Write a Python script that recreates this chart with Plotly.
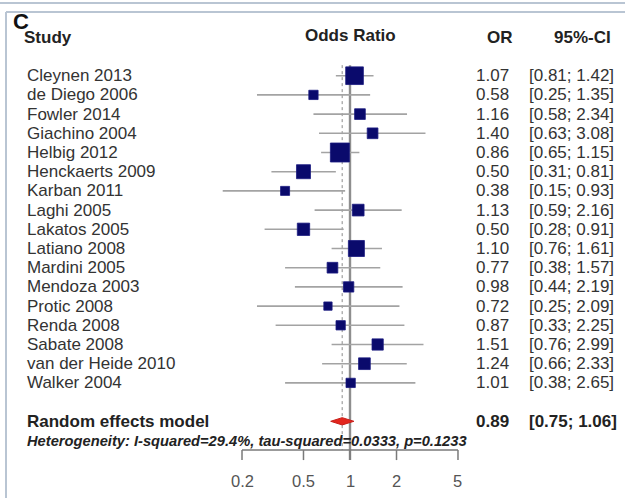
import math
import plotly.graph_objects as go

# Study-level odds ratios with 95% confidence intervals
studies = ["Cleynen 2013", "de Diego 2006", "Fowler 2014", "Giachino 2004",
           "Helbig 2012", "Henckaerts 2009", "Karban 2011", "Laghi 2005",
           "Lakatos 2005", "Latiano 2008", "Mardini 2005", "Mendoza 2003",
           "Protic 2008", "Renda 2008", "Sabate 2008", "van der Heide 2010",
           "Walker 2004"]
odds_ratio = [1.07, 0.58, 1.16, 1.40, 0.86, 0.50, 0.38, 1.13, 0.50, 1.10,
              0.77, 0.98, 0.72, 0.87, 1.51, 1.24, 1.01]
ci_lower = [0.81, 0.25, 0.58, 0.63, 0.65, 0.31, 0.15, 0.59, 0.28, 0.76,
            0.38, 0.44, 0.25, 0.33, 0.76, 0.66, 0.38]
ci_upper = [1.42, 1.35, 2.34, 3.08, 1.15, 0.81, 0.93, 2.16, 0.91, 1.61,
            1.57, 2.19, 2.09, 2.25, 2.99, 2.33, 2.65]
# approximate study weights (%) in the random effects model
weights = [12.3, 3.4, 4.5, 4.5, 14.2, 7.7, 3.2, 5.4, 6.0, 10.1,
           4.5, 4.2, 2.7, 3.4, 5.0, 5.4, 3.4]

# Pooled random effects estimate
pooled_or = 0.89
pooled_lower = 0.75
pooled_upper = 1.06
heterogeneity = "Heterogeneity: I-squared=29.4%, tau-squared=0.0333, p=0.1233"

tick_values = [0.2, 0.5, 1, 2, 5]

W, H = 625, 498
FONT = "Liberation Sans, Arial, sans-serif"
TEXT = "#333333"
NAVY = "#0a0a6c"
GREY = "#a3a3a3"
FS = 17

n = len(studies)
rows = list(range(n))
pooled_row = n + 1
het_row = n + 2
axis_row = n + 2.5
tick_len = 0.52
label_row = n + 4.1
header_row = -2

# pixel layout: OR=1 sits at x=350, 154.5 px per decade; row 0 at y=75.7, 19.2 px per row
px_per_dec = 154.5
x0_pix = 350
x_range = [(0 - x0_pix) / px_per_dec, (W - x0_pix) / px_per_dec]
row0_pix, row_pix = 75.7, 19.2
y_range = [(H - row0_pix) / row_pix, (0 - row0_pix) / row_pix]

def px(xp):
    return xp / W

fig = go.Figure()

# confidence interval whiskers
cx, cy = [], []
for r, lo, hi in zip(rows, ci_lower, ci_upper):
    cx += [lo, hi, None]
    cy += [r, r, None]
fig.add_trace(go.Scatter(x=cx, y=cy, mode="lines",
                         line=dict(color=GREY, width=1.6),
                         hoverinfo="skip", showlegend=False))

# weighted square markers
sizes = [5.04 * math.sqrt(w) for w in weights]
fig.add_trace(go.Scatter(x=odds_ratio, y=rows, mode="markers",
                         marker=dict(symbol="square", size=sizes, color=NAVY, opacity=1,
                                     line=dict(color="#1a1a80", width=0.8)),
                         hoverinfo="skip", showlegend=False))

# reference line at OR = 1 and dotted line at the pooled estimate
fig.add_shape(type="line", xref="x", yref="y", x0=1, x1=1, y0=-0.55, y1=axis_row + tick_len,
              line=dict(color="#8e8e8e", width=2.4), layer="below")
fig.add_shape(type="line", xref="x", yref="y", x0=pooled_or, x1=pooled_or, y0=-0.55, y1=axis_row,
              line=dict(color="#8a8a8a", width=1, dash="dot"), layer="below")

# pooled diamond
dh = 0.19
fig.add_trace(go.Scatter(x=[pooled_lower, pooled_or, pooled_upper, pooled_or, pooled_lower],
                         y=[pooled_row, pooled_row - dh, pooled_row, pooled_row + dh, pooled_row],
                         mode="lines", fill="toself", fillcolor="#e3261e",
                         line=dict(color="#c81e18", width=1),
                         hoverinfo="skip", showlegend=False))

# bottom axis
fig.add_shape(type="line", xref="x", yref="y", x0=tick_values[0], x1=tick_values[-1],
              y0=axis_row, y1=axis_row, line=dict(color="#7a7a7a", width=1.5))
for t in tick_values:
    fig.add_shape(type="line", xref="x", yref="y", x0=t, x1=t,
                  y0=axis_row, y1=axis_row + tick_len, line=dict(color="#7a7a7a", width=1.5))
    fig.add_annotation(x=math.log10(t), y=label_row, xref="x", yref="y", text=str(t),
                       showarrow=False, xanchor="center", yanchor="middle",
                       font=dict(family=FONT, size=16.5, color="#555555"))

# study labels and numeric columns
for r, name, o, lo, hi in zip(rows, studies, odds_ratio, ci_lower, ci_upper):
    fig.add_annotation(x=px(25), y=r, xref="paper", yref="y", text=name, showarrow=False,
                       xanchor="left", yanchor="middle", font=dict(family=FONT, size=FS, color=TEXT))
    fig.add_annotation(x=px(511), y=r, xref="paper", yref="y", text=f"{o:.2f}", showarrow=False,
                       xanchor="right", yanchor="middle", font=dict(family=FONT, size=FS, color=TEXT))
    fig.add_annotation(x=px(527), y=r, xref="paper", yref="y", text=f"[{lo:.2f}; {hi:.2f}]",
                       showarrow=False, xanchor="left", yanchor="middle",
                       font=dict(family=FONT, size=FS, color=TEXT))

# pooled row text
bold = dict(family=FONT, size=FS, color="#222222")
fig.add_annotation(x=px(25), y=pooled_row, xref="paper", yref="y", text="<b>Random effects model</b>",
                   showarrow=False, xanchor="left", yanchor="middle", font=bold)
fig.add_annotation(x=px(511), y=pooled_row, xref="paper", yref="y", text=f"<b>{pooled_or:.2f}</b>",
                   showarrow=False, xanchor="right", yanchor="middle", font=bold)
fig.add_annotation(x=px(527), y=pooled_row, xref="paper", yref="y",
                   text=f"<b>[{pooled_lower:.2f}; {pooled_upper:.2f}]</b>",
                   showarrow=False, xanchor="left", yanchor="middle", font=bold)
fig.add_annotation(x=px(25), y=het_row, xref="paper", yref="y", text=f"<b><i>{heterogeneity}</i></b>",
                   showarrow=False, xanchor="left", yanchor="middle",
                   font=dict(family=FONT, size=14.7, color="#222222"))

# column headers
fig.add_annotation(x=px(22), y=header_row, xref="paper", yref="y", text="<b>Study</b>",
                   showarrow=False, xanchor="left", yanchor="middle", font=bold)
fig.add_annotation(x=0, y=header_row - 0.1, xref="x", yref="y", text="<b>Odds Ratio</b>",
                   showarrow=False, xanchor="center", yanchor="middle", font=bold)
fig.add_annotation(x=px(515), y=header_row, xref="paper", yref="y", text="<b>OR</b>",
                   showarrow=False, xanchor="right", yanchor="middle", font=bold)
fig.add_annotation(x=px(613), y=header_row, xref="paper", yref="y", text="<b>95%-CI</b>",
                   showarrow=False, xanchor="right", yanchor="middle", font=bold)

# panel letter
fig.add_annotation(x=px(11), y=1 - 22 / H, xref="paper", yref="paper", text="<b>C</b>",
                   showarrow=False, xanchor="left", yanchor="middle",
                   font=dict(family=FONT, size=22, color="#111111"))

# panel frame
frame = "#b9c5d3"
fig.add_shape(type="line", xref="paper", yref="paper", x0=0, x1=1, y0=1 - 3 / H, y1=1 - 3 / H,
              line=dict(color=frame, width=2))
fig.add_shape(type="line", xref="paper", yref="paper", x0=px(6), x1=1, y0=1 - 12 / H, y1=1 - 12 / H,
              line=dict(color=frame, width=2))
fig.add_shape(type="line", xref="paper", yref="paper", x0=px(6), x1=px(6), y0=0, y1=1 - 12 / H,
              line=dict(color=frame, width=2))

fig.update_layout(
    width=W, height=H,
    margin=dict(l=0, r=0, t=0, b=0),
    paper_bgcolor="white", plot_bgcolor="white",
    xaxis=dict(type="log", range=x_range, visible=False, fixedrange=True),
    yaxis=dict(range=y_range, visible=False, fixedrange=True),
    showlegend=False,
)

fig.write_html("out.html")
